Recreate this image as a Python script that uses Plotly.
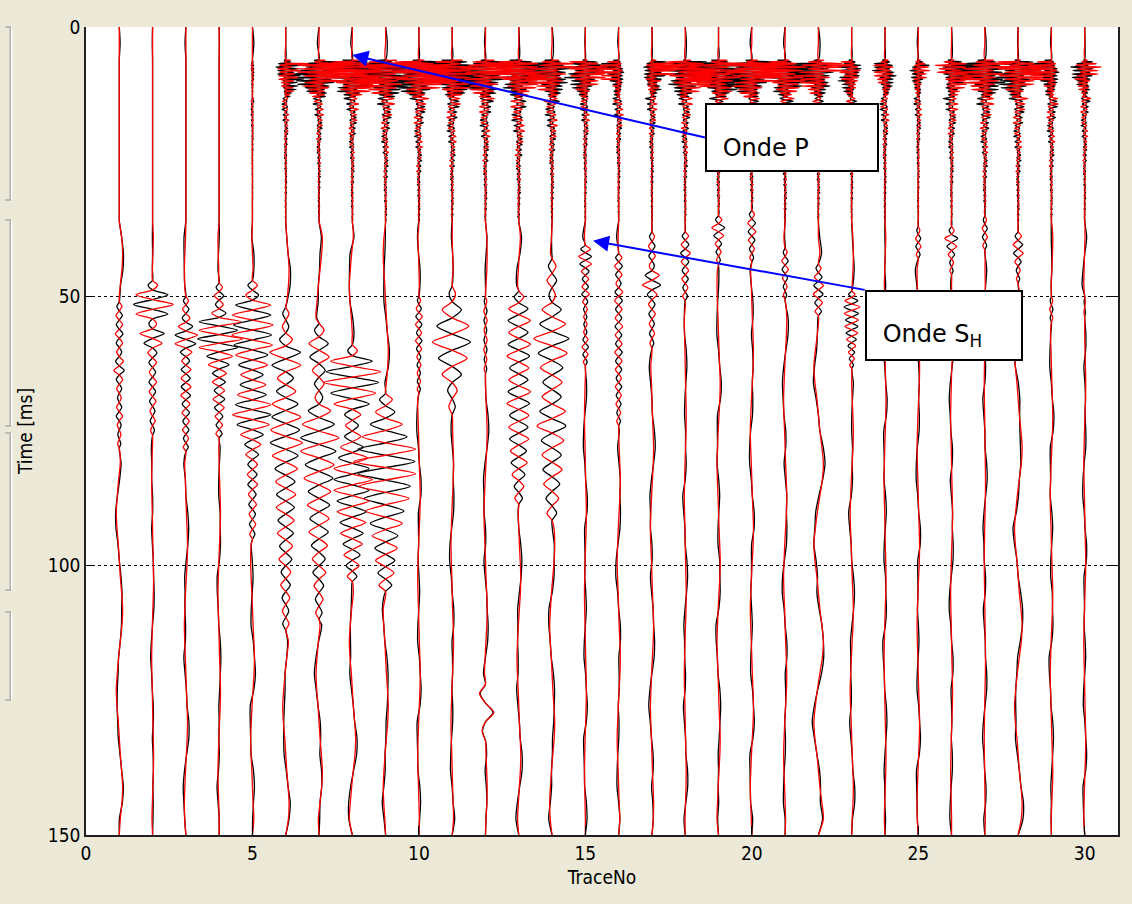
import plotly.graph_objects as go

# ---------------------------------------------------------------- data
TRACE_NO = list(range(1, 31))
X_TICKS = [0, 5, 10, 15, 20, 25, 30]
Y_TICKS = [0, 50, 100, 150]

# P first-arrival band: start time, half period, left/right reach (trace units)
P_T0 = 6.0
P_HALF = 0.32
P_LEFT = [0, 0, 0, 0, 0.05, 0.3, 1.3, 1.8, 1.8, 1.8, 1.7, 1.5, 1.4, 1.3, 1.0,
          0.8, 0.3, 1.2, 1.5, 1.6, 1.4, 1.1, 0.8, 0.4, 0.3, 0.5, 1.2, 1.3, 1.0, 0.5]
P_RIGHT = [0, 0, 0, 0, 0.05, 0.9, 1.5, 1.8, 1.8, 1.7, 1.6, 1.5, 1.3, 1.0, 0.8,
           0.2, 0.9, 1.5, 1.6, 1.5, 1.2, 0.9, 0.3, 0.5, 0.35, 1.0, 1.3, 1.0, 0.3, 0.5]
P_ENV = [0.2, 0.5, 0.8, 1.0, 1.0, 0.95, 1.0, 0.9, 0.85, 0.8, 0.75, 0.7, 0.6,
         0.55, 0.5, 0.45, 0.4, 0.35, 0.3, 0.25, 0.2, 0.15]
P_JITTER = [1.0, 0.45, 0.8, 0.3, 0.95, 0.6, 0.2, 0.85, 0.5, 0.7, 0.35, 0.9, 0.55]

# P coda
CODA_HALF = 0.5
CODA_AMP = [0, 0, 0, 0, 0.06, 0.15, 0.2, 0.25, 0.3, 0.3, 0.3, 0.3, 0.35, 0.3, 0.2,
            0.2, 0.2, 0.25, 0.3, 0.3, 0.3, 0.25, 0.2, 0.2, 0.15, 0.25, 0.3, 0.3, 0.25, 0.2]
CODA_ENV = [1.0, 0.8, 0.9, 0.7, 0.75, 0.6, 0.7, 0.55, 0.6, 0.5, 0.55, 0.45, 0.5, 0.4,
            0.45, 0.35, 0.4, 0.3, 0.35, 0.3, 0.28, 0.3, 0.25, 0.28, 0.22, 0.25, 0.2,
            0.22, 0.18, 0.2, 0.16, 0.18, 0.15, 0.16, 0.14, 0.15, 0.12, 0.14, 0.12,
            0.1, 0.12, 0.1, 0.08, 0.1, 0.08, 0.06]
CODA_JITTER = [1.0, 0.4, 0.75, 0.2, 0.9, 0.55, 0.3, 0.85, 0.5]

# SH arrival: onset (ms), half period (ms), successive half-cycle amplitudes
S_ONSET = [51, 47, 50, 47.5, 47, 52, 55, 59, 68, 50, 48, 50, 49, 43, 40.5,
           42, 38, 38, 35, 34, 41, 44, 49, 50, 37, 37, 35, 38, 50, 50]
S_HALF = [1.7, 1.8, 1.6, 1.6, 1.85, 2.4, 2.5, 2.0, 2.3, 1.5, 3.0, 1.8, 2.2, 2.7, 1.4,
          1.6, 1.8, 1.6, 1.5, 1.6, 1.6, 1.6, 1.2, 2.0, 1.5, 1.5, 1.6, 1.6, 1.6, 2.0]
S_LOBES = [
    [0.08, -0.1, 0.1, -0.12, 0.1, -0.08, 0.12, -0.16, 0.1, -0.08, 0.06, -0.08, 0.1, -0.06, 0.05, -0.05],
    [0.15, -0.5, 0.62, -0.5, 0.12, -0.38, 0.28, -0.14, 0.12, -0.1, 0.12, -0.1, 0.1, -0.08, 0.08, -0.06],
    [0.08, -0.1, 0.12, -0.22, 0.35, -0.32, 0.18, -0.12, 0.15, -0.14, 0.15, -0.15, 0.12, -0.12, 0.1, -0.1, 0.08, -0.08],
    [0.1, -0.15, 0.12, -0.22, 0.65, -0.6, 0.7, -0.6, 0.4, -0.32, 0.22, -0.2, 0.16, -0.18, 0.15, -0.12, 0.1, -0.1],
    [0.15, -0.2, 0.55, -0.6, 0.62, -0.62, 0.6, -0.5, 0.45, -0.35, 0.4, -0.45, 0.55, -0.6, 0.5, -0.35,
     0.25, -0.2, 0.15, -0.15, 0.15, -0.12, 0.12, -0.1, 0.1, -0.08],
    [0.1, -0.1, 0.2, -0.48, 0.45, -0.25, 0.3, -0.4, 0.45, -0.45, 0.5, -0.4, 0.35, -0.3, 0.3, -0.28,
     0.25, -0.25, 0.2, -0.2, 0.15, -0.15, 0.12, -0.1, 0.1],
    [0.15, -0.3, 0.3, -0.2, 0.15, -0.12, 0.35, -0.5, 0.6, -0.55, 0.45, -0.45, 0.35, -0.35, 0.3, -0.3,
     0.25, -0.2, 0.2, -0.15, 0.12, -0.1],
    [0.15, -0.65, 0.85, -0.85, 0.7, -0.55, 0.25, -0.2, 0.25, -0.35, 0.45, -0.55, 0.6, -0.55, 0.5, -0.45,
     0.4, -0.35, 0.3, -0.25, 0.2, -0.15],
    [0.2, -0.3, 0.5, -0.7, 0.9, -0.95, 0.9, -0.8, 0.7, -0.6, 0.5, -0.4, 0.35, -0.3, 0.25, -0.2],
    [0.05, -0.08, 0.1, -0.1, 0.08, -0.1, 0.08, -0.06, 0.06, -0.05, 0.05, -0.05],
    [0.1, -0.3, 0.5, -0.6, 0.45, -0.3, 0.15, -0.1],
    [0.04, -0.05, 0.05, -0.04, 0.05, -0.05, 0.04, -0.04],
    [0.15, -0.3, 0.35, -0.3, 0.35, -0.35, 0.3, -0.3, 0.35, -0.35, 0.3, -0.3, 0.3, -0.25, 0.25, -0.2, 0.15, -0.12],
    [0.12, -0.15, 0.1, -0.3, 0.4, -0.55, 0.45, -0.35, 0.3, -0.3, 0.4, -0.45, 0.35, -0.3, 0.3, -0.25, 0.2, -0.15],
    [0.15, -0.2, 0.18, -0.12, 0.1, -0.1, 0.12, -0.08, 0.06, -0.05, 0.05, -0.05, 0.08, -0.1, 0.08, -0.06],
    [0.1, -0.12, 0.1, -0.08, 0.12, -0.12, 0.1, -0.1, 0.12, -0.1, 0.1, -0.12, 0.1, -0.1, 0.08, -0.1,
     0.08, -0.08, 0.06, -0.06],
    [0.08, -0.1, 0.1, -0.08, 0.22, -0.28, 0.15, -0.1, 0.1, -0.08, 0.08, -0.06],
    [0.1, -0.12, 0.15, -0.12, 0.1, -0.1, 0.08, -0.08],
    [0.1, -0.2, 0.15, -0.1, 0.08, -0.06],
    [0.08, -0.12, 0.12, -0.1, 0.08, -0.06],
    [0.06, -0.1, 0.1, -0.08, 0.06, -0.05],
    [0.08, -0.12, 0.15, -0.15, 0.12, -0.1],
    [0.1, -0.2, 0.25, -0.22, 0.2, -0.2, 0.18, -0.15, 0.12, -0.1, 0.08, -0.06],
    [0.02, -0.02],
    [0.05, -0.08, 0.08, -0.06],
    [0.08, -0.2, 0.15, -0.1, 0.06, -0.05],
    [0.05, -0.08, 0.08, -0.06],
    [0.1, -0.15, 0.15, -0.1, 0.06, -0.05],
    [0.04, -0.05, 0.04],
    [0.02, -0.02],
]

# isolated late event: trace -> (onset, half period, half-cycle amplitudes)
LATE_EVENTS = {12: (122.0, 3.5, [-0.18, 0.25, -0.1])}

# slow baseline wander of both components and the small black/red mismatch
WANDER_AMP = [0.1, 0.03, 0.05, 0.04, 0.06, 0.1, 0.1, 0.1, 0.08, 0.04, 0.04, 0.05, 0.06, 0.08, 0.03,
              0.05, 0.05, 0.03, 0.05, 0.05, 0.05, 0.15, 0.05, 0.03, 0.04, 0.03, 0.02, 0.12, 0.04, 0.03]
WANDER_SHAPE = [0, 0.3, 0.7, 1.0, 0.8, 0.3, -0.2, -0.6, -0.9, -0.7, -0.3]
DRIFT_AMP = [0.03, 0.03, 0.05, 0.04, 0.06, 0.05, 0.05, 0.05, 0.05, 0.05, 0.05, 0.05, 0.05, 0.05, 0.05,
             0.05, 0.05, 0.05, 0.05, 0.05, 0.05, 0.05, 0.05, 0.05, 0.05, 0.05, 0.05, 0.05, 0.05, 0.05]
DRIFT_SHAPE = [0, 0.8, 1.0, 0.2, -0.6, -1.0, -0.3, 0, 0.7, 0.4, -0.9, -0.5, 0]
BASE_STEP = 3.0
T_END = 150.0


def half_cycles(t0, half, amps):
    """Zero crossings and peaks of successive half-cycles."""
    t, d = [], []
    for j, a in enumerate(amps):
        t += [t0 + j * half, t0 + (j + 0.5) * half]
        d += [0.0, a]
    t.append(t0 + len(amps) * half)
    d.append(0.0)
    return t, d


def build_trace(i):
    segs = []  # (times, red offsets, black offsets)

    # P band
    red_p, blk_p = [], []
    for j, env in enumerate(P_ENV):
        s = 1 if j % 2 == 0 else -1
        red_p.append(s * (P_RIGHT[i] if s > 0 else P_LEFT[i]) * env * P_JITTER[(j + 3 * i) % len(P_JITTER)])
        blk_p.append(-s * (P_RIGHT[i] if s < 0 else P_LEFT[i]) * env * P_JITTER[(j + 3 * i + 7) % len(P_JITTER)])
    t, r = half_cycles(P_T0, P_HALF, red_p)
    _, b = half_cycles(P_T0, P_HALF, blk_p)
    segs.append((t, r, b))
    p_end = t[-1]

    # coda, stopped before the SH onset
    n_coda = min(len(CODA_ENV), int((S_ONSET[i] - 1.0 - p_end) / CODA_HALF))
    red_c, blk_c = [], []
    for j in range(n_coda):
        s = 1 if j % 2 == 0 else -1
        amp = CODA_AMP[i] * CODA_ENV[j]
        red_c.append(s * amp * CODA_JITTER[(j + 2 * i) % len(CODA_JITTER)])
        blk_c.append(-s * amp * CODA_JITTER[(j + 2 * i + 4) % len(CODA_JITTER)])
    if n_coda:
        t, r = half_cycles(p_end, CODA_HALF, red_c)
        _, b = half_cycles(p_end, CODA_HALF, blk_c)
        segs.append((t[1:], r[1:], b[1:]))

    # SH wave: the two components are of opposite polarity
    t, r = half_cycles(S_ONSET[i], S_HALF[i], S_LOBES[i])
    segs.append((t, r, [-0.92 * v for v in r]))

    k = i + 1
    if k in LATE_EVENTS:
        t0, h, amps = LATE_EVENTS[k]
        t, r = half_cycles(t0, h, amps)
        segs.append((t, r, [0.9 * v for v in r]))

    # stitch segments with baseline nodes in the gaps
    tr, xr, tb, xb = [0.0], [k], [0.0], [k]
    cursor = 0.0
    bounds = [(s[0][0], s[0][-1]) for s in segs] + [(T_END, T_END)]
    for idx, (start, end) in enumerate(bounds):
        n = int(cursor // BASE_STEP) + 1
        while n * BASE_STEP < start - 0.8:
            tn = n * BASE_STEP
            if tn > cursor + 0.8:
                w = WANDER_AMP[i] * WANDER_SHAPE[(n + 2 * i) % len(WANDER_SHAPE)] if tn > 30 else 0.0
                d = DRIFT_AMP[i] * DRIFT_SHAPE[(n + 5 * i) % len(DRIFT_SHAPE)]
                tr.append(tn); xr.append(k + w)
                tb.append(tn); xb.append(k + w + d)
            n += 1
        if idx < len(segs):
            t, r, b = segs[idx]
            tr += t; xr += [k + v for v in r]
            tb += t; xb += [k + v for v in b]
            cursor = end
    tr.append(T_END); xr.append(k)
    tb.append(T_END); xb.append(k)
    return tr, xr, tb, xb


fig = go.Figure()
curves = [build_trace(i) for i in range(len(TRACE_NO))]
for tr, xr, tb, xb in curves:
    fig.add_trace(go.Scatter(x=xb, y=tb, mode="lines", hoverinfo="skip",
                             line=dict(color="#000000", width=1.3, shape="spline", smoothing=0.8)))
for tr, xr, tb, xb in curves:
    fig.add_trace(go.Scatter(x=xr, y=tr, mode="lines", hoverinfo="skip",
                             line=dict(color="#FF0000", width=1.3, shape="spline", smoothing=0.8)))

# ------------------------------------------------------------- labels
LABEL_FONT = dict(family="DejaVu Sans, Verdana, sans-serif", size=24, color="#000000")
NBSP = "\u00a0"


def px_x(p):
    return (p - 86) / 1034.0


def px_y(p):
    return (835 - p) / 808.0


# window frame brackets on the left edge
shapes = []
for top, bot in [(27, 200), (220, 426), (433, 590), (612, 700)]:
    for col, off in [("#A0A0A0", 0.0), ("#FFFFFF", 1.5)]:
        shapes.append(dict(type="line", xref="paper", yref="paper",
                           x0=px_x(10 + off), x1=px_x(10 + off), y0=px_y(top), y1=px_y(bot),
                           line=dict(color=col, width=1.2)))
    for yy in (top, bot):
        shapes.append(dict(type="line", xref="paper", yref="paper",
                           x0=px_x(5), x1=px_x(11), y0=px_y(yy), y1=px_y(yy),
                           line=dict(color="#A0A0A0", width=1.2)))

# labelled boxes with arrows pointing at the two arrivals
annotations = [
    dict(x=8.0, y=5.2, xref="x", yref="y", ax=18.59, ay=20.5, axref="x", ayref="y",
         xanchor="left", yanchor="middle",
         text=NBSP + "Onde P", font=LABEL_FONT, align="left", valign="bottom",
         width=154, height=49, bgcolor="white", bordercolor="#000000", borderwidth=2, borderpad=8,
         showarrow=True, arrowhead=2, arrowsize=1.6, arrowwidth=2, arrowcolor="#0000FF"),
    dict(x=15.23, y=39.7, xref="x", yref="y", ax=23.39, ay=48.8, axref="x", ayref="y",
         xanchor="left", yanchor="top",
         text=NBSP + "Onde S<sub>H</sub>", font=LABEL_FONT, align="left", valign="bottom",
         width=138, height=51, bgcolor="white", bordercolor="#000000", borderwidth=2, borderpad=8,
         showarrow=True, arrowhead=2, arrowsize=1.6, arrowwidth=2, arrowcolor="#0000FF"),
]

AXIS_FONT = dict(family="Liberation Sans Narrow, Arial Narrow, DejaVu Sans Condensed, sans-serif",
                 size=19, color="#000000")

fig.update_layout(
    width=1132, height=904,
    margin=dict(l=86, r=12, t=27, b=69),
    paper_bgcolor="#ECE9D8", plot_bgcolor="white",
    showlegend=False,
    shapes=shapes, annotations=annotations,
    xaxis=dict(range=[0, 31], tickvals=X_TICKS, ticks="inside", ticklen=9, tickcolor="#000000",
               showline=True, linecolor="#202020", linewidth=1.5, mirror=False,
               showgrid=False, zeroline=False, tickfont=AXIS_FONT,
               title=dict(text="TraceNo", font=AXIS_FONT, standoff=8)),
    yaxis=dict(range=[150, 0], tickvals=Y_TICKS, ticks="inside", ticklen=9, tickcolor="#000000",
               showline=True, linecolor="#202020", linewidth=1.5, mirror="ticks",
               showgrid=True, gridcolor="#000000", gridwidth=1, griddash="3px,3px",
               zeroline=False, tickfont=AXIS_FONT,
               title=dict(text="Time [ms]", font=AXIS_FONT, standoff=10)),
)

fig.write_html("out.html")
